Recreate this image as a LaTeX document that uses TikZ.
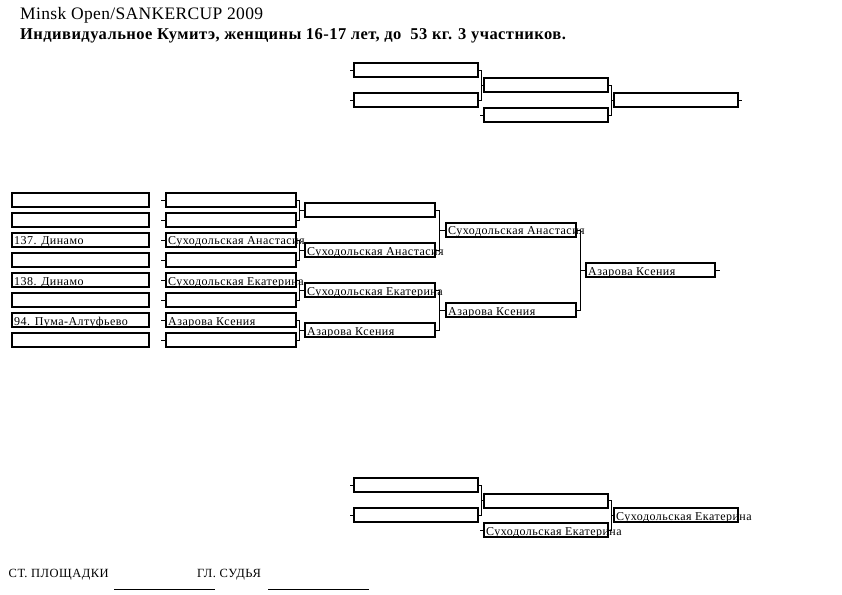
\documentclass[tikz,border=0pt]{standalone}
\usepackage{fontspec}
\setmainfont{Liberation Serif}
\newfontfamily\bodyfnt[LetterSpace=4]{Liberation Serif}
\newfontfamily\ttlfntA[LetterSpace=2]{Liberation Serif}
\newfontfamily\ttlfntB[LetterSpace=2.7]{Liberation Serif}
\newcommand\bodyfont{\bodyfnt\fontsize{12bp}{14bp}\selectfont}
\tikzset{
  box/.style={draw, line width=2bp, inner sep=0pt, minimum height=14bp},
  txt/.style={anchor=base west, inner sep=0pt, font=\bodyfont},
  foot/.style={anchor=base west, inner sep=0pt, font=\bodyfnt\fontsize{12.5bp}{14bp}\selectfont},
  conn/.style={line width=0.8bp},
  ttl/.style={anchor=base west, inner sep=0pt},
}
% \bx{name}{left outer x}{right outer x}{center y}{text}
\newcommand\bx[5]{%
  \pgfmathsetmacro\bxw{#3-#2-2}%
  \node[box, minimum width=\bxw bp] (#1) at ({(#2+#3)/2},#4) {};%
  \draw[line width=1bp] ([xshift=1.5bp]#1.north west) -- ([xshift=1.5bp]#1.south west);%
  \node[txt] (#1t) at (#2+3,#4+5) {#5};%
}
\begin{document}
\begin{tikzpicture}[x=1bp,y=-1bp]
\useasboundingbox (0,0) rectangle (842,595);
% titles
\node[ttl, font=\ttlfntA\fontsize{17.5bp}{19bp}\selectfont] (title1) at (20,19.3) {Minsk Open/SANKERCUP 2009};
\node[ttl, font=\ttlfntB\bfseries\fontsize{16.5bp}{18bp}\selectfont] (title2) at (20,39.5) {Индивидуальное Кумитэ, женщины 16-17 лет, до\ \ 53 кг. 3 участников.};
% ---- top repechage ----
\bx{ta}{353}{479}{70.3}{}
\bx{tb}{353}{479}{100.3}{}
\bx{tc}{483}{609}{85.5}{}
\bx{td}{483}{609}{115.3}{}
\bx{te}{613}{739}{100.3}{}
\draw[conn] (ta.west) -- ++(-3,0);
\draw[conn] (tb.west) -- ++(-3,0);
\draw[conn] (td.west) -- ++(-3,0);
\draw[conn] (te.east) -- ++(3,0);
\draw[conn] (ta.east) -- ++(2,0) |- (tc.west);
\draw[conn] (tb.east) -- ++(2,0) |- (tc.west);
\draw[conn] (tc.east) -- ++(2,0) |- (te.west);
\draw[conn] (td.east) -- ++(2,0) |- (te.west);
% ---- main bracket ----
\foreach \k/\t in {0/{},1/{},2/{137. Динамо},3/{},4/{138. Динамо},5/{},6/{94. Пума-Алтуфьево},7/{}}{
  \bx{a\k}{11}{150}{200+20*\k}{\t}
}
\foreach \k/\t in {0/{},1/{},2/{Суходольская Анастасия},3/{},4/{Суходольская Екатерина},5/{},6/{Азарова Ксения},7/{}}{
  \bx{b\k}{165}{297}{200+20*\k}{\t}
  \draw[conn] (b\k.west) -- ++(-4,0);
}
\foreach \k/\t in {0/{},1/{Суходольская Анастасия},2/{Суходольская Екатерина},3/{Азарова Ксения}}{
  \bx{c\k}{304}{436}{210+40*\k}{\t}
}
\bx{d0}{445}{577}{230}{Суходольская Анастасия}
\bx{d1}{445}{577}{310}{Азарова Ксения}
\bx{e0}{585}{716}{270}{Азарова Ксения}
\foreach \i/\j/\c in {0/1/0,2/3/1,4/5/2,6/7/3}{
  \draw[conn] (b\i.east) -- ++(2.5,0) |- (c\c.west);
  \draw[conn] (b\j.east) -- ++(2.5,0) |- (c\c.west);
}
\draw[conn] (c0.east) -- ++(3,0) |- (d0.west);
\draw[conn] (c1.east) -- ++(3,0) |- (d0.west);
\draw[conn] (c2.east) -- ++(3,0) |- (d1.west);
\draw[conn] (c3.east) -- ++(3,0) |- (d1.west);
\draw[conn] (d0.east) -- ++(3,0) |- (e0.west);
\draw[conn] (d1.east) -- ++(3,0) |- (e0.west);
\draw[conn] (e0.east) -- ++(4,0);
% ---- bottom repechage ----
\bx{ba}{353}{479}{485.3}{}
\bx{bb}{353}{479}{515.3}{}
\bx{bc}{483}{609}{500.5}{}
\bx{bd}{483}{609}{530.3}{Суходольская Екатерина}
\bx{be}{613}{739}{515.3}{Суходольская Екатерина}
\draw[conn] (ba.west) -- ++(-3,0);
\draw[conn] (bb.west) -- ++(-3,0);
\draw[conn] (bd.west) -- ++(-3,0);
\draw[conn] (ba.east) -- ++(2,0) |- (bc.west);
\draw[conn] (bb.east) -- ++(2,0) |- (bc.west);
\draw[conn] (bc.east) -- ++(2,0) |- (be.west);
\draw[conn] (bd.east) -- ++(2,0) |- (be.west);
% ---- footer ----
\node[foot] (st) at (8.5,577) {СТ. ПЛОЩАДКИ};
\node[foot] (gl) at (197,577) {ГЛ. СУДЬЯ};
\coordinate (l1a) at (114,589.5); \coordinate (l1b) at (215,589.5);
\coordinate (l2a) at (268,589.5); \coordinate (l2b) at (369,589.5);
\draw[conn] (l1a) -- (l1b);
\draw[conn] (l2a) -- (l2b);
\end{tikzpicture}
\end{document}
